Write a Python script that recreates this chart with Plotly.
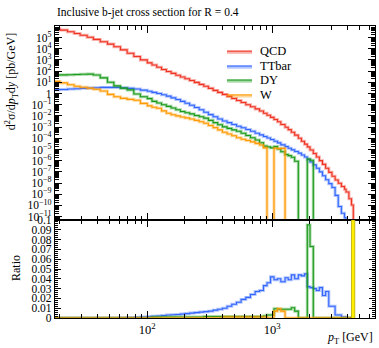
import plotly.graph_objects as go

# ---------------- data ----------------
# bin edges in pT [GeV]
edges = [18, 20, 23, 26, 29, 33, 37, 42, 48, 54, 61, 69, 78, 88, 100, 109, 119, 130, 142, 155,
         169, 184, 200, 218, 238, 260, 283, 308, 336, 366, 399, 435, 474, 517, 563, 614, 669, 729,
         790, 850, 907, 968, 1032, 1100, 1170, 1265, 1340, 1420, 1510, 1615, 1710, 1810, 1905, 2003,
         2128, 2250, 2380, 2520, 2670, 2830, 3000, 3180, 3370, 3570, 3780, 3890, 4100, 4300, 4447, 4570]

qcd = [6.0e5, 4.6e5, 3.3e5, 2.3e5, 1.6e5, 1.05e5, 6.8e4, 4.2e4, 2.6e4, 1.5e4, 7.9e3, 4.0e3, 2.0e3,
       1.0e3, 550, 350, 220, 140, 93, 63, 43, 30, 21, 14.5, 9.8, 6.5, 4.4, 2.9, 1.9, 1.26, 0.83,
       0.55, 0.36, 0.24, 0.155, 0.10, 0.065, 0.042, 0.027, 0.0174, 0.0115, 0.0074, 0.0047, 0.0030,
       0.0017, 9.8e-4, 5.9e-4, 3.5e-4, 1.9e-4, 1.0e-4, 5.4e-5, 3.0e-5, 1.7e-5, 8.9e-6, 4.4e-6,
       2.1e-6, 1.0e-6, 4.7e-7, 2.1e-7, 9.1e-8, 4.0e-8, 1.9e-8, 9.5e-9, 5.0e-9, 2.8e-9, 1.6e-9,
       4.0e-10, 1.1e-10, 0]

ttbar = [2.2, 2.3, 2.5, 2.7, 2.9, 3.1, 3.3, 3.5, 3.5, 3.5, 3.2, 2.9, 2.5, 2.0, 1.6, 1.26, 1.0, 0.78,
         0.58, 0.41, 0.29, 0.20, 0.135, 0.089, 0.056, 0.035, 0.021, 0.013, 0.0083, 0.0052, 0.0035,
         0.0025, 0.0017, 0.0012, 8.7e-4, 6.0e-4, 4.2e-4, 2.8e-4, 2.0e-4, 1.45e-4, 1.07e-4, 7.8e-5,
         5.5e-5, 3.9e-5, 2.6e-5, 1.8e-5, 1.3e-5, 9.3e-6, 6.6e-6, 4.7e-6, 3.2e-6, 2.1e-6, 1.3e-6,
         7.6e-7, 4.2e-7, 2.1e-7, 1.0e-7, 4.5e-8, 2.0e-8, 8.9e-9, 4.0e-9, 7.9e-10, 8.0e-11, 2.0e-11,
         8.0e-12, 0, 0, 0, 0]

dy = [45, 46, 48, 50, 52, 54, 45, 25, 10, 4.8, 3.0, 2.1, 0.89, 0.52, 0.35, 0.20, 0.14, 0.10, 0.071,
      0.050, 0.035, 0.025, 0.019, 0.015, 0.011, 0.0085, 0.0063, 0.0040, 0.0025, 0.0016, 0.00105,
      7.6e-4, 5.6e-4, 4.2e-4, 2.8e-4, 1.8e-4, 1.1e-4, 7.1e-5, 4.0e-5, 2.0e-5, 1.7e-5, 1.4e-5, 1.8e-5,
      1.1e-5, 6.3e-6, 3.5e-6, 2.8e-6, 2.0e-6, 8.9e-7, 0, 0, 0, 1.4e-6, 1.1e-6,
      0, 0, 0, 0, 0, 0, 0, 0, 0, 0, 0, 0, 0, 0, 0]

w = [12, 8.9, 6.0, 4.4, 3.6, 3.0, 2.4, 1.66, 0.83, 0.52, 0.37, 0.30, 0.25, 0.13, 0.079, 0.060, 0.048,
     0.028, 0.017, 0.0126, 0.010, 0.0079, 0.0066, 0.0052, 0.0040, 0.0030, 0.0022, 0.0014, 8.9e-4,
     5.6e-4, 3.5e-4, 2.4e-4, 1.66e-4, 1.1e-4, 8.3e-5, 6.3e-5, 4.8e-5, 3.5e-5, 2.5e-5, 1.4e-5,
     0, 0, 1.3e-5, 1.2e-5, 1.26e-5,
     0, 0, 0, 0, 0, 0, 0, 0, 0, 0, 0, 0, 0, 0, 0, 0, 0, 0, 0, 0, 0, 0, 0, 0]

# ratio panel values (as drawn in the lower panel)
ratio_ttbar = [0, 0, 0, 0, 0, 0, 0, 0, 0, 0, 0.0002, 0.0004, 0.0006, 0.001, 0.0015, 0.0018, 0.002,
               0.0025, 0.003, 0.0033, 0.0036, 0.004, 0.0045, 0.005, 0.0055, 0.006, 0.0065, 0.007,
               0.008, 0.009, 0.010, 0.012, 0.014, 0.016, 0.019, 0.021, 0.024, 0.027, 0.028, 0.033,
               0.036, 0.042, 0.039, 0.040, 0.037, 0.041, 0.039, 0.044, 0.040, 0.044, 0.043, 0.045,
               0.032, 0.031, 0.030, 0.028, 0.031, 0.023, 0.027, 0.012, 0.012, 0.003, 0.003, 0.001,
               0.001, 0, 0, 0, 0]
ratio_dy = [0, 0, 0, 0, 0, 0, 0, 0, 0, 0, 0, 0, 0, 0, 0,
            0.001, 0.001, 0.001, 0.001, 0.001, 0.001, 0.001, 0.001, 0.001, 0.001, 0.001,
            0.0015, 0.0015, 0.0015, 0.0015, 0.0015, 0.0015, 0.0015, 0.0015, 0.0015, 0.0015, 0.0015,
            0.0015, 0.0015, 0.002, 0.003, 0.003, 0.0095, 0.009, 0.009, 0.009, 0.009, 0.0105, 0.007,
            0, 0, 0, 0.095, 0.073,
            0, 0, 0, 0, 0, 0, 0, 0, 0, 0, 0, 0, 0, 0, 0]
ratio_w = [0, 0, 0, 0, 0, 0, 0, 0, 0, 0, 0, 0, 0, 0, 0, 0, 0, 0, 0, 0, 0, 0, 0, 0, 0, 0, 0, 0, 0, 0,
           0.001, 0.001, 0.001, 0.001, 0.001, 0.001, 0.001, 0.001, 0.001, 0.001,
           0, 0, 0.007, 0.0095, 0.007,
           0, 0, 0, 0, 0, 0, 0, 0, 0, 0, 0, 0, 0, 0, 0, 0, 0, 0, 0, 0, 0, 0, 0, 0]
# yellow reference band in the ratio panel (pT range, height)
yellow_pt = [4300, 4570]
yellow_val = 0.1

names = ["QCD", "TTbar", "DY", "W"]
colors = ["#ee3322", "#3366ff", "#1a9a1a", "#ff9900"]
main_vals = [qcd, ttbar, dy, w]
ratio_vals = [None, ratio_ttbar, ratio_dy, ratio_w]

y_major = list(range(-11, 6))
y_labels = [("1" if k == 0 else "10<sup>%s</sup>" % (str(k).replace("-", "\u2212"))) for k in y_major]

# ---------------- figure ----------------
FONT = "Liberation Serif"
fig = go.Figure()


def rgba(hexc, a):
    h = hexc.lstrip("#")
    return "rgba(%d,%d,%d,%.2f)" % (int(h[0:2], 16), int(h[2:4], 16), int(h[4:6], 16), a)


def step_y(vals, floor):
    ys = [v if v > 0 else floor for v in vals]
    return ys + [ys[-1]]


for name, vals, col in zip(names, main_vals, colors):
    ys = step_y(vals, 1e-30)
    fig.add_trace(go.Scatter(x=edges, y=ys, mode="lines", line=dict(shape="hv", color=rgba(col, 0.38), width=3.0),
                             showlegend=False, hoverinfo="skip", xaxis="x", yaxis="y"))
    fig.add_trace(go.Scatter(x=edges, y=ys, mode="lines", name=name, line=dict(shape="hv", color=col, width=1.1),
                             showlegend=False, xaxis="x", yaxis="y"))

for name, rvals, col in zip(names[1:], ratio_vals[1:], colors[1:]):
    ys = list(rvals) + [rvals[-1]]
    fig.add_trace(go.Scatter(x=edges, y=ys, mode="lines", line=dict(shape="hv", color=rgba(col, 0.38), width=3.0),
                             showlegend=False, hoverinfo="skip", xaxis="x2", yaxis="y2"))
    fig.add_trace(go.Scatter(x=edges, y=ys, mode="lines", line=dict(shape="hv", color=col, width=1.1),
                             showlegend=False, xaxis="x2", yaxis="y2"))

fig.add_trace(go.Scatter(x=[yellow_pt[0], yellow_pt[0], yellow_pt[1], yellow_pt[1]],
                         y=[0, yellow_val, yellow_val, 0], mode="lines", fill="toself",
                         fillcolor="#ffee00", line=dict(color="#b8a800", width=0.8),
                         showlegend=False, xaxis="x2", yaxis="y2"))

x_minor = [20, 30, 40, 50, 60, 70, 80, 90, 200, 300, 400, 500, 600, 700, 800, 900,
           2000, 3000, 4000, 5000, 6000]
y_minor = [m * 10.0 ** k for k in range(-12, 7) for m in range(2, 10)]

xr = [1.2616, 3.8216]
split = 0.3356
axis_common = dict(showline=True, linecolor="black", linewidth=1.3, mirror="ticks", showgrid=False,
                   zeroline=False, ticks="inside", tickcolor="black",
                   tickfont=dict(family=FONT, size=11.5, color="black"))

fig.update_layout(
    width=379, height=348,
    margin=dict(l=55, r=4, t=26, b=30),
    paper_bgcolor="white", plot_bgcolor="white",
    font=dict(family=FONT, size=12, color="black"),
    xaxis=dict(axis_common, type="log", range=xr, domain=[0, 1], anchor="y", showticklabels=False,
               tickvals=[100, 1000], ticklen=7,
               minor=dict(tickvals=x_minor, ticklen=4, ticks="inside", tickcolor="black")),
    yaxis=dict(axis_common, type="log", range=[-11.3, 6.03], domain=[split, 1], anchor="x",
               tickvals=[10.0 ** k for k in y_major], ticktext=y_labels, ticklen=7,
               minor=dict(tickvals=y_minor, ticklen=4, ticks="inside", tickcolor="black")),
    xaxis2=dict(axis_common, type="log", range=xr, domain=[0, 1], anchor="y2", matches="x",
                tickvals=[100, 1000], ticktext=["10<sup>2</sup>", "10<sup>3</sup>"], ticklen=7,
                tickfont=dict(family=FONT, size=12.5, color="black"),
                minor=dict(tickvals=x_minor, ticklen=4, ticks="inside", tickcolor="black")),
    yaxis2=dict(axis_common, range=[0, 0.1], domain=[0, split], anchor="x2",
                tickvals=[i / 100 for i in range(11)],
                ticktext=["0"] + ["0.%02d" % i for i in range(1, 10)] + ["0.1"], ticklen=6,
                minor=dict(dtick=0.002, ticklen=3, ticks="inside", tickcolor="black")),
    showlegend=False,
)

# legend drawn as decoration (paper coordinates)
leg_rows = [0.914, 0.863, 0.815, 0.764]
for name, col, yr in zip(names, colors, leg_rows):
    fig.add_shape(type="line", xref="paper", yref="paper", x0=0.5375, x1=0.6156, y0=yr - 0.004, y1=yr - 0.004,
                  line=dict(color=rgba(col, 0.38), width=3))
    fig.add_shape(type="line", xref="paper", yref="paper", x0=0.5375, x1=0.6156, y0=yr, y1=yr,
                  line=dict(color=col, width=1.1))
    fig.add_annotation(text=name, xref="paper", yref="paper", x=0.634, y=yr, xanchor="left",
                       yanchor="middle", showarrow=False, font=dict(family=FONT, size=12.5))

fig.add_annotation(text="Inclusive b-jet cross section for R = 0.4", xref="paper", yref="paper",
                   x=0, y=1.045, xanchor="left", yanchor="middle", showarrow=False,
                   font=dict(family=FONT, size=11.5))
fig.add_annotation(text="d<sup>2</sup>σ/d<i>p</i><sub>T</sub>d<i>y</i> [pb/GeV]", xref="paper", yref="paper",
                   x=-0.135, y=0.81, xanchor="center", yanchor="middle", textangle=-90, showarrow=False,
                   font=dict(family=FONT, size=12))
fig.add_annotation(text="Ratio", xref="paper", yref="paper", x=-0.12, y=0.17,
                   xanchor="center", yanchor="middle", textangle=-90, showarrow=False,
                   font=dict(family=FONT, size=12))
fig.add_annotation(text="<i>p</i><sub>T</sub> [GeV]", xref="paper", yref="paper", x=1.0, y=-0.07,
                   xanchor="right", yanchor="middle", showarrow=False, font=dict(family=FONT, size=12))

fig.write_html("out.html")
